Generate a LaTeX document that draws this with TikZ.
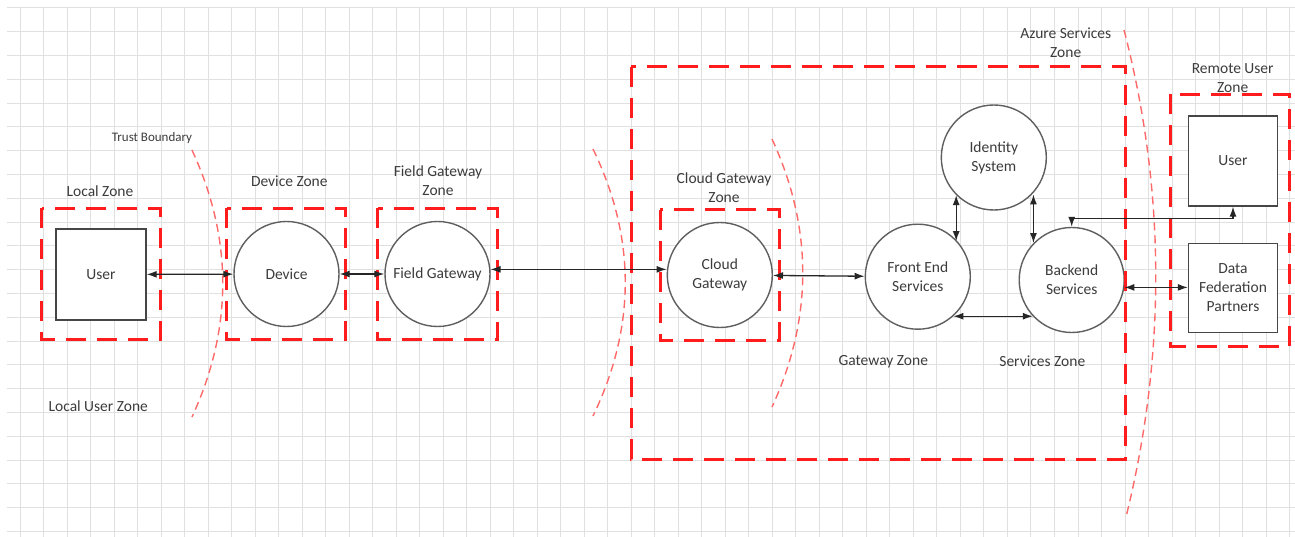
\documentclass[tikz,border=0pt]{standalone}
\usepackage{fontspec}
\setmainfont{Carlito}
\usetikzlibrary{arrows.meta}

\definecolor{zonered}{RGB}{255,28,28}
\definecolor{bndred}{RGB}{255,105,105}
\definecolor{txtgray}{RGB}{60,60,60}
\definecolor{gridgray}{RGB}{224,224,224}
\definecolor{edgegray}{RGB}{95,95,95}
\definecolor{boxgray}{RGB}{70,70,70}

\newcommand{\zonefont}{\fontsize{15.5}{19}\selectfont}
\newcommand{\tinyzonefont}{\fontsize{13}{15}\selectfont}

\begin{document}
\begin{tikzpicture}[x=1pt, y=-1pt,
    gridline/.style={draw=gridgray, line width=0.9pt},
    zone/.style={draw=zonered, line width=3pt, dash pattern=on 20pt off 11pt},
    boundary/.style={draw=bndred, line width=1.4pt, dash pattern=on 8pt off 5pt},
    proc/.style={circle, draw=edgegray, fill=white, line width=1.4pt, minimum size=105pt, inner sep=0pt, align=center, text=txtgray, font=\zonefont},
    actor/.style={rectangle, draw=boxgray, fill=white, line width=1.4pt, minimum width=90pt, minimum height=91pt, inner sep=0pt, align=center, text=txtgray, font=\zonefont},
    zonelabel/.style={align=center, text=txtgray, font=\zonefont, inner sep=0pt},
    flow/.style={{Latex[length=10pt,width=7pt]}-{Latex[length=10pt,width=7pt]}, line width=1.3pt, draw=black!85}
]
    \useasboundingbox (0,0) rectangle (1295,537);
    \fill[white] (0,0) rectangle (1295,537);

    % Background grid
    \foreach \i in {0,...,54}
        \draw[gridline] ({20+23.51*\i},7.9) -- ({20+23.51*\i},537);
    \foreach \j in {0,...,22}
        \draw[gridline] (7,{7.9+23.8*\j}) -- (1295,{7.9+23.8*\j});

    % Entities and processes
    \node[actor] (user) at (101,274.5) {User};
    \node[proc] (device) at (286.5,274) {Device};
    \node[proc] (fieldgw) at (437.5,274) {Field Gateway};
    \node[proc] (cloudgw) at (719.8,275) {Cloud\\Gateway};
    \node[proc] (frontend) at (917.8,276.7) {Front End\\Services};
    \node[proc] (identity) at (993.8,157.5) {Identity\\System};
    \node[proc] (backend) at (1071.7,280) {Backend\\Services};
    \node[actor, minimum width=89pt, minimum height=90pt] (remoteuser) at (1233,161) {User};
    \node[actor, minimum width=89pt, minimum height=89pt] (federation) at (1233,288) {Data\\Federation\\Partners};

    % Zones
    \draw[zone] (41.7,208.3) rectangle (160,339.3);
    \draw[zone] (226.7,208.3) rectangle (345.7,339.3);
    \draw[zone] (377.7,208.3) rectangle (497.3,339.3);
    \draw[zone] (660,210) rectangle (779,340.7);
    \draw[zone] (631,67) rectangle (1125,459);
    \draw[zone] (1170.7,94.3) rectangle (1289.3,346.7);

    % Trust boundaries
    \draw[boundary] (192,150) .. controls (233,239) and (233,328) .. (192,417);
    \draw[boundary] (593,149) .. controls (636,238) and (636,327) .. (593,416);
    \draw[boundary] (772,139) .. controls (813,228) and (813,318) .. (772,407);
    \draw[boundary] (1124,30) .. controls (1166,192) and (1166,355) .. (1126,517);

    % Zone labels
    \node[zonelabel, font=\tinyzonefont] (trustlbl) at (152,138.3) {Trust Boundary};
    \node[zonelabel] (locallbl) at (100,190.7) {Local Zone};
    \node[zonelabel] (devicelbl) at (289.3,181) {Device Zone};
    \node[zonelabel] (fieldlbl) at (438,180.5) {Field Gateway\\Zone};
    \node[zonelabel] (cloudlbl) at (724,187.2) {Cloud Gateway\\Zone};
    \node[zonelabel] (azurelbl) at (1065.7,42.8) {Azure Services\\Zone};
    \node[zonelabel] (remotelbl) at (1232.7,78.5) {Remote User\\Zone};
    \node[zonelabel] (localuserlbl) at (98.3,405.7) {Local User Zone};
    \node[zonelabel] (gatewaylbl) at (883.3,361.7) {Gateway Zone};
    \node[zonelabel] (serviceslbl) at (1042.3,361.7) {Services Zone};

    % Data flows
    \coordinate (rjoin) at (1233,218.5);
    \draw[flow] (user) -- (device);
    \draw[flow] (device) -- (fieldgw);
    \draw[flow] (fieldgw.5) -- (fieldgw.5 -| cloudgw.west);
    \draw[flow] (cloudgw) -- (frontend);
    \draw[flow] (identity.225) -- (identity.225 |- frontend.42);
    \draw[flow] (backend.136) -- (backend.136 |- identity.-44);
    \draw[flow] (frontend.-48) -- (frontend.-48 -| backend.-137);
    \draw[flow] (backend.north) |- (rjoin) -- (remoteuser.south);
    \draw[flow] (backend.-8) -- (backend.-8 -| federation.west);
\end{tikzpicture}
\end{document}
